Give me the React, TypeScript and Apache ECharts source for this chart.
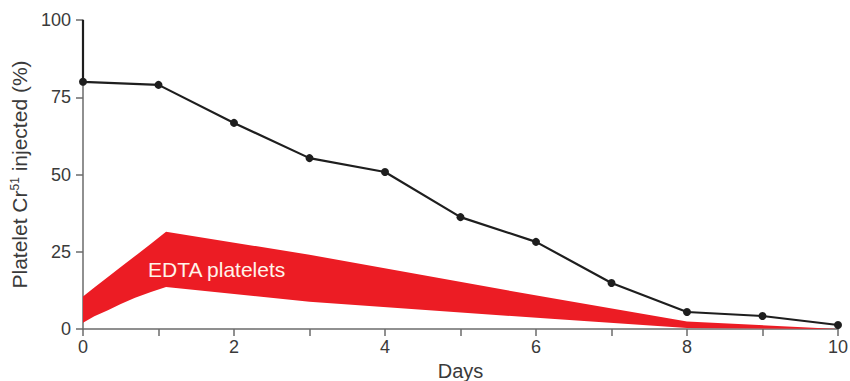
import React, { useEffect, useRef } from "react";
import * as echarts from "echarts";

const lineDays = [0, 0, 1, 2, 3, 4, 5, 6, 7, 8, 9, 10];
const lineValues = [100, 80, 79, 66.7, 55.3, 50.8, 36.2, 28.2, 14.9, 5.5, 4.2, 1.3];

const bandDays = [0, 0.15, 0.33, 0.5, 0.69, 0.9, 1.1, 3, 6.2, 8, 10];
const bandHigh = [10.5, 13.4, 16.8, 20.1, 23.6, 27.6, 31.5, 24, 10, 2.4, 0];
const bandLow = [2, 4.1, 6.1, 8.1, 10.1, 12, 13.6, 8.8, 3.3, 0.3, 0];

const yTicks = [0, 25, 50, 75, 100];
const xLabelled = [0, 2, 4, 6, 8, 10];
const bandLabel = "EDTA platelets";

export default function App() {
  const ref = useRef<HTMLDivElement>(null);
  useEffect(() => {
    if (!ref.current) return;
    const chart = echarts.init(ref.current, undefined, { renderer: "svg" });
    const axisColor = "#6b6b6b";
    const textColor = "#3a3a3a";
    const font = "Liberation Sans, Arial, Helvetica, sans-serif";
    chart.setOption({
      animation: false,
      backgroundColor: "#ffffff",
      grid: {
        left: 83,
        right: 12,
        top: 20,
        bottom: 52,
        containLabel: false,
        outerBoundsMode: "none",
      },
      xAxis: {
        type: "value",
        min: 0,
        max: 10,
        interval: 1,
        name: "Days",
        nameLocation: "middle",
        nameGap: 26,
        nameTextStyle: { fontSize: 20, color: textColor, fontFamily: font, verticalAlign: "top", lineHeight: 20 },
        axisLine: { show: true, lineStyle: { color: axisColor, width: 1.5 } },
        axisTick: { show: true, length: 7, lineStyle: { color: axisColor, width: 1.5 } },
        axisLabel: {
          fontSize: 18,
          color: textColor,
          fontFamily: font,
          margin: 9,
          formatter: (v: number) => (xLabelled.indexOf(v) >= 0 ? String(v) : ""),
        },
        splitLine: { show: false },
      },
      yAxis: {
        type: "value",
        min: yTicks[0],
        max: yTicks[yTicks.length - 1],
        interval: 25,
        name: "Platelet Cr{sup|51} injected (%)",
        nameLocation: "middle",
        nameGap: 50,
        nameRotate: 90,
        nameTextStyle: {
          fontSize: 21,
          color: textColor,
          fontFamily: font,
          rich: {
            sup: { fontSize: 12, verticalAlign: "top", color: textColor, fontFamily: font, padding: [0, 0, 9, 0] },
          },
        },
        axisLine: { show: true, lineStyle: { color: axisColor, width: 1.5 } },
        axisTick: { show: true, length: 7, lineStyle: { color: axisColor, width: 1.5 } },
        axisLabel: { fontSize: 18, color: textColor, fontFamily: font, margin: 12 },
        splitLine: { show: false },
      },
      series: [
        {
          type: "custom",
          silent: true,
          clip: false,
          z: 1,
          data: [[0, 0]],
          renderItem: (params: any, api: any) => {
            const upper = bandDays.map((d, i) => api.coord([d, bandHigh[i]]));
            const lower = bandDays.map((d, i) => api.coord([d, bandLow[i]])).reverse();
            const pt = api.coord([1.77, 19.2]);
            return {
              type: "group",
              children: [
                {
                  type: "polygon",
                  shape: { points: upper.concat(lower) },
                  style: { fill: "#ec1c24", stroke: "none" },
                },
                {
                  type: "text",
                  x: pt[0],
                  y: pt[1],
                  style: {
                    text: bandLabel,
                    fill: "#fff3ea",
                    fontSize: 21,
                    fontFamily: font,
                    align: "center",
                    verticalAlign: "middle",
                  },
                },
              ],
            };
          },
        },
        {
          type: "line",
          z: 3,
          data: lineDays.map((d, i) =>
            i === 0 ? { value: [d, lineValues[i]], symbol: "none" } : { value: [d, lineValues[i]] }
          ),
          symbol: "circle",
          symbolSize: 8,
          clip: false,
          lineStyle: { color: "#1e1e1e", width: 2.2 },
          itemStyle: { color: "#1e1e1e" },
        },
      ],
    });
    return () => chart.dispose();
  }, []);
  return (
    <div
      ref={ref}
      style={{ position: "absolute", left: 0, top: 0, width: 850, height: 381 }}
    />
  );
}
